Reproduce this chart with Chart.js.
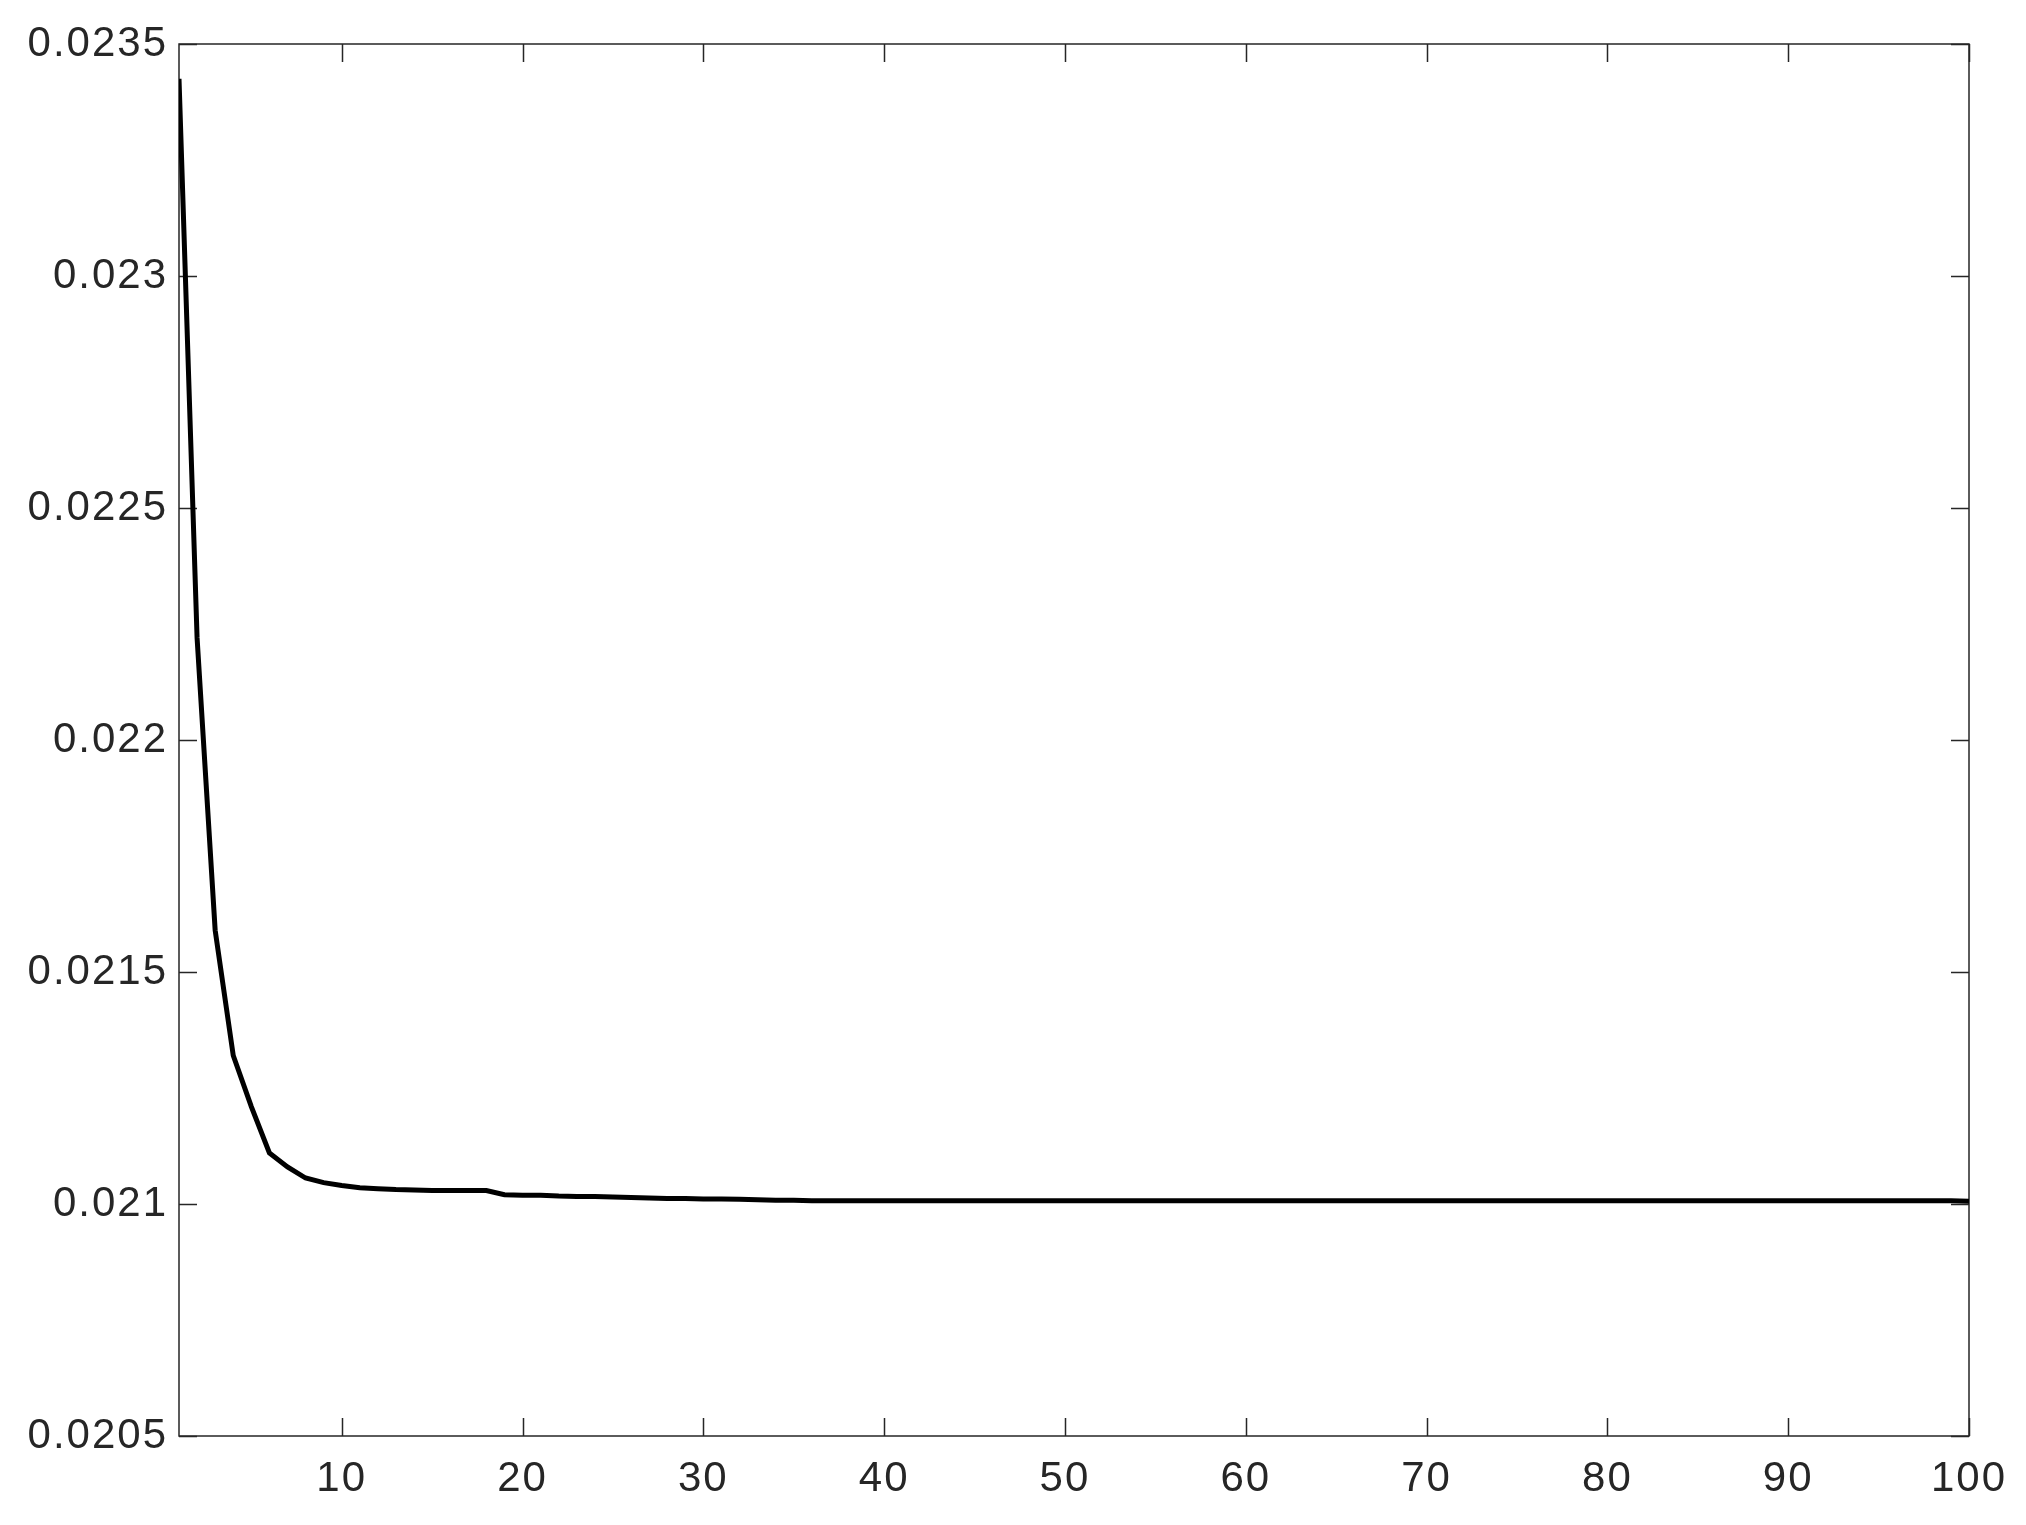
<!DOCTYPE html>
<html>
<head>
<meta charset="utf-8">
<title>Convergence</title>
<script src="https://cdn.jsdelivr.net/npm/chart.js@4/dist/chart.umd.min.js"></script>
<style>
    html, body { margin: 0; padding: 0; background: #ffffff; }
    #wrap { width: 2026px; height: 1525px; position: relative; }
</style>
</head>
<body>
<div id="wrap"><canvas id="lossChart"></canvas></div>
<script>
// --- datos ---
const iterations = [];
for (let i = 1; i <= 100; i++) iterations.push(i); // eje x: 1..100

const lossValues = [
    0.023425, 0.02222, 0.02159, 0.02132, 0.02121, 0.02111, 0.02108, 0.021056, 0.021046, 0.02104,
    0.021035, 0.021033, 0.021031, 0.02103, 0.021029, 0.021029, 0.021029, 0.021029, 0.02102, 0.021019,
    0.021019, 0.021017, 0.021016, 0.021016, 0.021015, 0.021014, 0.021013, 0.021012, 0.021012, 0.021011,
    0.021011, 0.02101, 0.021009, 0.021008, 0.021008, 0.021007, 0.021007, 0.021007, 0.021007, 0.021007,
    0.021007, 0.021007, 0.021007, 0.021007, 0.021007, 0.021007, 0.021007, 0.021007, 0.021007, 0.021007,
    0.021007, 0.021007, 0.021007, 0.021007, 0.021007, 0.021007, 0.021007, 0.021007, 0.021007, 0.021007,
    0.021007, 0.021007, 0.021007, 0.021007, 0.021007, 0.021007, 0.021007, 0.021007, 0.021007, 0.021007,
    0.021007, 0.021007, 0.021007, 0.021007, 0.021007, 0.021007, 0.021007, 0.021007, 0.021007, 0.021007,
    0.021007, 0.021007, 0.021007, 0.021007, 0.021007, 0.021007, 0.021007, 0.021007, 0.021007, 0.021007,
    0.021007, 0.021007, 0.021007, 0.021007, 0.021007, 0.021007, 0.021007, 0.021007, 0.021007, 0.021006
];

const xTickValues = [10, 20, 30, 40, 50, 60, 70, 80, 90, 100];
const yTickValues = [0.0205, 0.021, 0.0215, 0.022, 0.0225, 0.023, 0.0235];

const axisColor = '#262626';
const tickLen = 18;

// marco y marcas hacia adentro en los cuatro lados (estilo matlab)
const frameTicks = {
    id: 'frameTicks',
    beforeDatasetsDraw(chart) {
        const { ctx, chartArea: a, scales } = chart;
        ctx.save();
        ctx.strokeStyle = axisColor;
        ctx.lineWidth = 1.5;
        ctx.strokeRect(a.left, a.top, a.right - a.left, a.bottom - a.top);
        ctx.beginPath();
        xTickValues.forEach(v => {
            const px = Math.round(scales.x.getPixelForValue(v)) + 0.5;
            ctx.moveTo(px, a.bottom); ctx.lineTo(px, a.bottom - tickLen);
            ctx.moveTo(px, a.top); ctx.lineTo(px, a.top + tickLen);
        });
        yTickValues.forEach(v => {
            const py = Math.round(scales.y.getPixelForValue(v)) + 0.5;
            ctx.moveTo(a.left, py); ctx.lineTo(a.left + tickLen, py);
            ctx.moveTo(a.right, py); ctx.lineTo(a.right - tickLen, py);
        });
        ctx.stroke();
        ctx.restore();
    }
};

// un poco de espacio entre letras, como en la figura original
const spacing = {
    id: 'spacing',
    beforeUpdate(chart) { chart.ctx.letterSpacing = '2px'; },
    beforeDraw(chart) { chart.ctx.letterSpacing = '2px'; }
};

const ctx = document.getElementById('lossChart');
new Chart(ctx, {
    type: 'line',
    data: {
        labels: iterations,
        datasets: [{
            data: lossValues,
            borderColor: '#000000',
            borderWidth: 5,
            pointRadius: 0,
            tension: 0,
            fill: false
        }]
    },
    options: {
        responsive: true,
        maintainAspectRatio: false,
        animation: false,
        events: [],
        layout: { padding: { top: 44, right: 57, left: 0, bottom: 0 } },
        plugins: { legend: { display: false }, tooltip: { enabled: false } },
        scales: {
            x: {
                type: 'linear',
                min: 1,
                max: 100,
                afterBuildTicks: s => { s.ticks = xTickValues.map(v => ({ value: v })); },
                afterFit: s => { s.height = 89; },
                grid: { display: false, drawTicks: false },
                border: { display: false },
                ticks: {
                    color: axisColor,
                    font: { family: 'Liberation Sans', size: 42 },
                    padding: 18,
                    maxRotation: 0,
                    autoSkip: false,
                    callback: v => String(v)
                }
            },
            y: {
                type: 'linear',
                min: 0.0205,
                max: 0.0235,
                afterBuildTicks: s => { s.ticks = yTickValues.map(v => ({ value: v })); },
                afterFit: s => { s.width = 179; },
                grid: { display: false, drawTicks: false },
                border: { display: false },
                ticks: {
                    color: axisColor,
                    font: { family: 'Liberation Sans', size: 42 },
                    padding: 11,
                    autoSkip: false,
                    callback: v => String(v)
                }
            }
        }
    },
    plugins: [frameTicks, spacing]
});
</script>
</body>
</html>
